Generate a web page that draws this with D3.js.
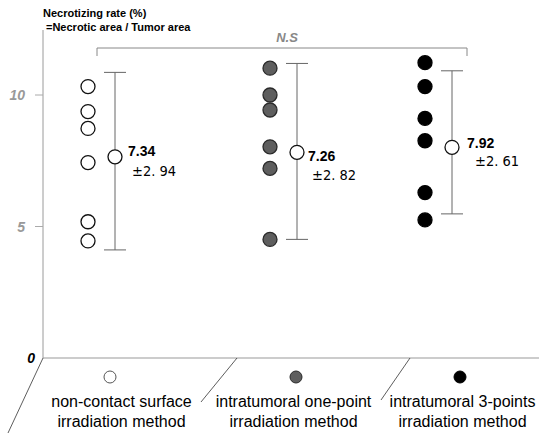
<!DOCTYPE html>
<html>
<head>
<meta charset="utf-8">
<script src="https://cdn.jsdelivr.net/npm/d3@7"></script>
<style>
  body { margin: 0; background: #fff; }
  svg { display: block; }
</style>
</head>
<body>
<svg id="chart" width="539" height="435"></svg>
<script>
const groups = ['non-contact surface', 'intratumoral one-point', 'intratumoral 3-points'];
const groupLine2 = ['irradiation method', 'irradiation method', 'irradiation method'];

// individual necrotizing rates (%)
const surfaceValues = [10.32, 9.37, 8.73, 7.43, 5.18, 4.45];
const onePointValues = [11.02, 10.0, 9.43, 8.03, 7.21, 4.51];
const threePointValues = [11.23, 10.32, 9.11, 8.26, 6.29, 5.25];

// drawn mean marker and whisker ends
const meanDrawn = [7.65, 7.82, 8.01];
const whiskerHigh = [10.86, 11.2, 10.92];
const whiskerLow = [4.11, 4.51, 5.48];
const meanLabels = ['7.34', '7.26', '7.92'];
const sdLabels = ['±2. 94', '±2. 82', '±2. 61'];

const yTicks = [0, 5, 10];

const svg = d3.select('#chart');
const margin = { left: 43, bottom: 358, top: 30 };

const y = d3.scaleLinear().domain([0, 10]).range([margin.bottom, 95]);
const x = d3.scaleOrdinal().domain(groups).range([88, 270, 425]);
const legendX = d3.scaleOrdinal().domain(groups).range([110, 296, 460]);
const textX = d3.scaleOrdinal().domain(groups).range([121.5, 293.5, 462.5]);

const dotStyle = [
  { fill: '#fff', stroke: '#111' },
  { fill: '#5e5e5e', stroke: '#2a2a2a' },
  { fill: '#000', stroke: '#000' },
];
const allValues = [surfaceValues, onePointValues, threePointValues];

// floor / axes
svg.append('line')
  .attr('x1', margin.left).attr('x2', margin.left)
  .attr('y1', margin.top).attr('y2', margin.bottom)
  .attr('stroke', '#9a9a9a').attr('stroke-width', 1);
svg.append('line')
  .attr('x1', margin.left).attr('x2', 539)
  .attr('y1', margin.bottom).attr('y2', margin.bottom)
  .attr('stroke', '#9a9a9a').attr('stroke-width', 1.2);

// perspective separators
const diagonals = [[43, 358, 8, 433], [237, 358, 201, 402], [410, 358, 381, 400]];
svg.selectAll('.diag')
  .data(diagonals)
  .join('line')
  .attr('class', 'diag')
  .attr('x1', (d) => d[0]).attr('y1', (d) => d[1])
  .attr('x2', (d) => d[2]).attr('y2', (d) => d[3])
  .attr('stroke', '#333').attr('stroke-width', 0.8);

// y ticks
yTicks.forEach((t) => {
  if (t > 0) {
    svg.append('line')
      .attr('x1', margin.left - 8).attr('x2', margin.left)
      .attr('y1', y(t)).attr('y2', y(t))
      .attr('stroke', '#aaa');
  }
  svg.append('text')
    .attr('x', t === 0 ? 35 : 25)
    .attr('y', y(t) + 5)
    .attr('text-anchor', 'end')
    .attr('font-family', 'Liberation Sans, Arial, sans-serif')
    .attr('font-weight', 'bold')
    .attr('font-style', 'italic')
    .attr('font-size', 14)
    .attr('fill', t === 0 ? '#000' : '#999')
    .text(t);
});

// y title
svg.append('text')
  .attr('x', 43).attr('y', 17)
  .attr('font-family', 'Liberation Sans, Arial, sans-serif')
  .attr('font-weight', 'bold')
  .attr('font-size', 11)
  .text('Necrotizing rate (%)');
svg.append('text')
  .attr('x', 46).attr('y', 31)
  .attr('font-family', 'Liberation Sans, Arial, sans-serif')
  .attr('font-weight', 'bold')
  .attr('font-size', 11)
  .text('=Necrotic area / Tumor area');

// N.S bracket
svg.append('path')
  .attr('d', `M97,56 V48 H467 V56`)
  .attr('fill', 'none')
  .attr('stroke', '#888')
  .attr('stroke-width', 1);
svg.append('text')
  .attr('x', 287).attr('y', 42)
  .attr('text-anchor', 'middle')
  .attr('font-family', 'Liberation Sans, Arial, sans-serif')
  .attr('font-weight', 'bold')
  .attr('font-style', 'italic')
  .attr('font-size', 13)
  .attr('fill', '#888')
  .text('N.S');

// label nudges relative to the whisker
const meanDx = [13, 11, 15];
const sdDx = [17, 15, 23];
const meanOffset = [-1, 9, 1];
const sdOffset = [19, 28, 19];

groups.forEach((g, i) => {
  const cx = x(g);
  const ex = cx + 27;

  // individual points
  svg.selectAll(`.pt${i}`)
    .data(allValues[i])
    .join('circle')
    .attr('class', `pt${i}`)
    .attr('cx', cx)
    .attr('cy', (d) => y(d))
    .attr('r', 7)
    .attr('fill', dotStyle[i].fill)
    .attr('stroke', dotStyle[i].stroke)
    .attr('stroke-width', 1.3);

  // whisker
  svg.append('line')
    .attr('x1', ex).attr('x2', ex)
    .attr('y1', y(whiskerHigh[i])).attr('y2', y(whiskerLow[i]))
    .attr('stroke', '#666').attr('stroke-width', 1);
  [whiskerHigh[i], whiskerLow[i]].forEach((v) => {
    svg.append('line')
      .attr('x1', ex - 11).attr('x2', ex + 11)
      .attr('y1', y(v)).attr('y2', y(v))
      .attr('stroke', '#666').attr('stroke-width', 1);
  });
  svg.append('circle')
    .attr('cx', ex).attr('cy', y(meanDrawn[i]))
    .attr('r', 7)
    .attr('fill', '#fff')
    .attr('stroke', '#111')
    .attr('stroke-width', 1.3);

  // labels
  svg.append('text')
    .attr('x', ex + meanDx[i])
    .attr('y', y(meanDrawn[i]) + meanOffset[i])
    .attr('font-family', 'Liberation Sans, Arial, sans-serif')
    .attr('font-weight', 'bold')
    .attr('font-size', 14)
    .text(meanLabels[i]);
  svg.append('text')
    .attr('x', ex + sdDx[i])
    .attr('y', y(meanDrawn[i]) + sdOffset[i])
    .attr('font-family', 'DejaVu Sans, sans-serif')
    .attr('font-stretch', 'condensed')
    .attr('font-size', 14.5)
    .text(sdLabels[i]);

  // category legend
  svg.append('circle')
    .attr('cx', legendX(g)).attr('cy', 377)
    .attr('r', 6)
    .attr('fill', dotStyle[i].fill)
    .attr('stroke', i === 0 ? '#555' : dotStyle[i].stroke)
    .attr('stroke-width', 1);
  svg.append('text')
    .attr('x', textX(g)).attr('y', 407)
    .attr('text-anchor', 'middle')
    .attr('font-family', 'Liberation Sans, Arial, sans-serif')
    .attr('font-size', 16)
    .text(g);
  svg.append('text')
    .attr('x', textX(g)).attr('y', 427)
    .attr('text-anchor', 'middle')
    .attr('font-family', 'Liberation Sans, Arial, sans-serif')
    .attr('font-size', 16)
    .text(groupLine2[i]);
});
</script>
</body>
</html>
